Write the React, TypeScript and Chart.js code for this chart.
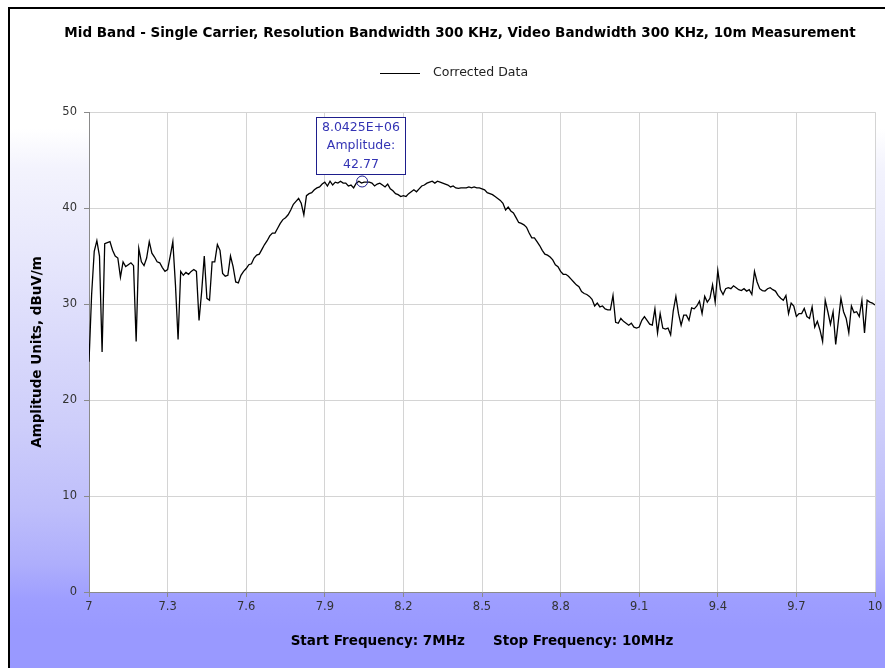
import React, { useEffect, useRef } from "react";
import { Chart, registerables } from "chart.js";

Chart.register(...registerables);

const FONT = "'DejaVu Sans', 'Verdana', sans-serif";

const CHART_TITLE =
  "Mid Band - Single Carrier, Resolution Bandwidth 300 KHz, Video Bandwidth 300 KHz, 10m Measurement";
const SERIES_LABEL = "Corrected Data";
const X_TITLE = "Start Frequency: 7MHz      Stop Frequency: 10MHz";
const Y_TITLE = "Amplitude Units, dBuV/m";

// Frequency grid (MHz): 7.00 .. 10.00 in 0.01 MHz steps
const FREQ_START = 7;
const FREQ_STEP = 0.01;

// Amplitude readings (dBuV/m), one per frequency step
const amplitudes: number[] = [
  24.0, 31.0, 35.5, 36.6, 35.0, 25.0, 36.3, 36.4, 36.5, 35.6,
  35.0, 34.8, 32.8, 34.4, 33.9, 34.1, 34.3, 34.0, 26.1, 35.8,
  34.4, 34.0, 34.8, 36.5, 35.3, 34.9, 34.4, 34.3, 33.8, 33.4,
  33.6, 35.0, 36.5, 32.0, 26.3, 33.4, 33.0, 33.3, 33.1, 33.4,
  33.6, 33.4, 28.3, 31.3, 35.0, 30.6, 30.4, 34.4, 34.4, 36.2,
  35.6, 33.2, 32.9, 33.0, 35.0, 33.9, 32.3, 32.2, 33.0, 33.4,
  33.7, 34.1, 34.2, 34.8, 35.1, 35.2, 35.7, 36.2, 36.6, 37.1,
  37.4, 37.4, 37.9, 38.4, 38.8, 39.0, 39.3, 39.8, 40.4, 40.7,
  41.0, 40.5, 39.3, 41.3, 41.5, 41.6, 41.9, 42.1, 42.2, 42.5,
  42.7, 42.3, 42.8, 42.4, 42.7, 42.6, 42.8, 42.6, 42.6, 42.3,
  42.4, 42.1, 42.6, 42.8, 42.6, 42.7, 42.7, 42.7, 42.6, 42.3,
  42.5, 42.6, 42.4, 42.2, 42.5, 42.0, 41.8, 41.5, 41.4, 41.2,
  41.3, 41.2, 41.5, 41.7, 41.9, 41.7, 42.0, 42.3, 42.4, 42.6,
  42.7, 42.8, 42.6, 42.8, 42.7, 42.6, 42.5, 42.4, 42.2, 42.3,
  42.1, 42.05, 42.1, 42.1, 42.1, 42.2, 42.1, 42.2, 42.1, 42.1,
  42.0, 41.9, 41.6, 41.5, 41.4, 41.2, 41.0, 40.8, 40.5, 39.8,
  40.1, 39.7, 39.5, 39.0, 38.5, 38.4, 38.25, 38.0, 37.4, 36.9,
  36.9, 36.5, 36.1, 35.6, 35.2, 35.1, 34.9, 34.6, 34.1, 33.9,
  33.4, 33.1, 33.1, 32.9, 32.6, 32.3, 32.0, 31.8, 31.3, 31.1,
  31.0, 30.8, 30.5, 29.8, 30.1, 29.7, 29.8, 29.5, 29.4, 29.4,
  30.9, 28.1, 28.0, 28.5, 28.2, 28.0, 27.8, 28.0, 27.6, 27.5,
  27.6, 28.3, 28.7, 28.3, 27.9, 27.8, 29.5, 27.0, 29.0, 27.5,
  27.4, 27.5, 26.8, 29.3, 30.8, 29.0, 27.8, 28.85, 28.85, 28.3,
  29.6, 29.5, 29.8, 30.3, 29.0, 30.8, 30.2, 30.6, 32.0, 30.2,
  33.5, 31.5, 31.0, 31.6, 31.7, 31.6, 31.9, 31.7, 31.5, 31.4,
  31.6, 31.35, 31.5, 31.0, 33.4, 32.3, 31.6, 31.4, 31.35, 31.6,
  31.7, 31.5, 31.35, 30.9, 30.6, 30.4, 30.9, 29.0, 30.1, 29.8,
  28.7, 29.0, 29.0, 29.55, 28.7, 28.5, 29.7, 27.6, 28.2, 27.3,
  26.1, 30.4, 29.2, 27.9, 29.2, 25.8, 28.2, 30.6, 29.2, 28.5,
  27.0, 29.8, 29.1, 29.2, 28.7, 30.4, 27.0, 30.4, 30.2, 30.1,
  29.9,
];

const xTickValues = [7, 7.3, 7.6, 7.9, 8.2, 8.5, 8.8, 9.1, 9.4, 9.7, 10];
const xTickLabels = ["7", "7.3", "7.6", "7.9", "8.2", "8.5", "8.8", "9.1", "9.4", "9.7", "10"];
const yTickValues = [0, 10, 20, 30, 40, 50];
const yTickLabels = ["0", "10", "20", "30", "40", "50"];

// Peak marker
const MARKER_FREQ = 8.0425;
const MARKER_AMP = 42.77;
const MARKER_LINES = ["8.0425E+06", "Amplitude:", "42.77"];

const plotBackground = {
  id: "plotBackground",
  beforeDraw(chart: any) {
    const { ctx, chartArea: a } = chart;
    ctx.save();
    ctx.fillStyle = "#ffffff";
    ctx.fillRect(a.left, a.top, a.right - a.left, a.bottom - a.top);
    ctx.restore();
  },
};

const lineLegend = {
  id: "lineLegend",
  afterDraw(chart: any) {
    const ds = chart.data.datasets[0];
    const ctx = chart.ctx;
    ctx.save();
    ctx.font = `12.5px ${FONT}`;
    const tw = ctx.measureText(ds.label).width;
    const lineW = 40;
    const gap = 13;
    const total = lineW + gap + tw;
    const left = Math.round(chart.width / 2 - 6 - total / 2);
    const y = 64;
    ctx.strokeStyle = ds.borderColor;
    ctx.lineWidth = 1;
    ctx.beginPath();
    ctx.moveTo(left, y + 0.5);
    ctx.lineTo(left + lineW, y + 0.5);
    ctx.stroke();
    ctx.fillStyle = "#222222";
    ctx.textAlign = "left";
    ctx.textBaseline = "middle";
    ctx.fillText(ds.label, left + lineW + gap, y);
    ctx.restore();
  },
};

const peakMarker = {
  id: "peakMarker",
  afterDatasetsDraw(chart: any) {
    const { ctx, scales } = chart;
    const px = scales.x.getPixelForValue(MARKER_FREQ);
    const py = scales.y.getPixelForValue(MARKER_AMP);
    ctx.save();
    ctx.strokeStyle = "#1e1e8c";
    ctx.lineWidth = 1;
    ctx.beginPath();
    ctx.arc(px, py, 5.5, 0, Math.PI * 2);
    ctx.stroke();
    const bw = 89;
    const bh = 57;
    const bx = Math.round(px - 46) + 0.5;
    const by = Math.round(py - 7 - bh) + 0.5;
    ctx.fillStyle = "#ffffff";
    ctx.fillRect(bx, by, bw, bh);
    ctx.strokeRect(bx, by, bw, bh);
    ctx.fillStyle = "#3434b4";
    ctx.font = `12.5px ${FONT}`;
    ctx.textAlign = "center";
    ctx.textBaseline = "middle";
    MARKER_LINES.forEach((t, k) => ctx.fillText(t, bx + bw / 2, by + 10 + k * 18.5));
    ctx.restore();
  },
};

export default function App() {
  const canvasRef = useRef<HTMLCanvasElement | null>(null);

  useEffect(() => {
    const canvas = canvasRef.current;
    if (!canvas) return;
    const points = amplitudes.map((v, i) => ({ x: FREQ_START + i * FREQ_STEP, y: v }));
    const chart = new Chart(canvas, {
      type: "line",
      data: {
        datasets: [
          {
            label: SERIES_LABEL,
            data: points,
            borderColor: "#000000",
            backgroundColor: "#000000",
            borderWidth: 1.3,
            pointRadius: 0,
            tension: 0,
            fill: false,
          },
        ],
      },
      options: {
        animation: false,
        responsive: false,
        maintainAspectRatio: false,
        parsing: false as any,
        layout: { padding: 0 },
        plugins: {
          legend: { display: false },
          tooltip: { enabled: false },
          title: {
            display: true,
            text: CHART_TITLE,
            color: "#000000",
            font: { family: FONT, size: 13.5, weight: "bold", lineHeight: 1.2 },
            padding: { top: 15.9, bottom: 71.0 },
          },
        },
        scales: {
          x: {
            type: "linear",
            min: 7,
            max: 10,
            afterBuildTicks: (axis: any) => {
              axis.ticks = xTickValues.map((v) => ({ value: v }));
            },
            afterFit: (s: any) => {
              s.height = 76;
              s.paddingLeft = 0;
              s.paddingRight = 35;
            },
            grid: { color: "#d4d4d4", tickColor: "#8a8a8a", tickLength: 5, lineWidth: 1 },
            border: { color: "#8a8a8a", width: 1 },
            ticks: {
              color: "#333333",
              font: { family: FONT, size: 11.5 },
              padding: 3,
              maxRotation: 0,
              autoSkip: false,
              callback: (_v: any, i: number) => xTickLabels[i],
            },
            title: {
              display: true,
              text: X_TITLE,
              color: "#000000",
              font: { family: FONT, size: 13.5, weight: "bold", lineHeight: 1.2 },
              padding: { top: 0, bottom: 18 },
            },
          },
          y: {
            type: "linear",
            min: 0,
            max: 50,
            afterBuildTicks: (axis: any) => {
              axis.ticks = yTickValues.map((v) => ({ value: v }));
            },
            afterFit: (s: any) => {
              s.width = 79;
            },
            grid: { color: "#d4d4d4", tickColor: "#8a8a8a", tickLength: 5, lineWidth: 1 },
            border: { color: "#8a8a8a", width: 1 },
            ticks: {
              color: "#333333",
              font: { family: FONT, size: 11.5 },
              padding: 7,
              callback: (_v: any, i: number) => yTickLabels[i],
            },
            title: {
              display: true,
              text: Y_TITLE,
              color: "#000000",
              font: { family: FONT, size: 13.5, weight: "bold", lineHeight: 1.2 },
              padding: { top: 19, bottom: 0 },
            },
          },
        },
      },
      plugins: [plotBackground, lineLegend, peakMarker],
    });
    return () => chart.destroy();
  }, []);

  return (
    <div
      style={{
        position: "fixed",
        left: 8,
        top: 7,
        width: 877,
        height: 661,
        boxSizing: "border-box",
        borderLeft: "2px solid #000",
        borderTop: "2px solid #000",
        overflow: "hidden",
        background:
          "linear-gradient(to bottom, #ffffff 0px, #ffffff 120px, #f3f3fd 160px, #e8e8fc 240px, #dadafb 330px, #cdcdfa 420px, #bebefb 500px, #aeaefc 555px, #9e9eff 590px, #9999ff 620px, #9999ff 100%)",
      }}
    >
      <canvas ref={canvasRef} width={900} height={659} style={{ display: "block", width: 900, height: 659 }} />
    </div>
  );
}
